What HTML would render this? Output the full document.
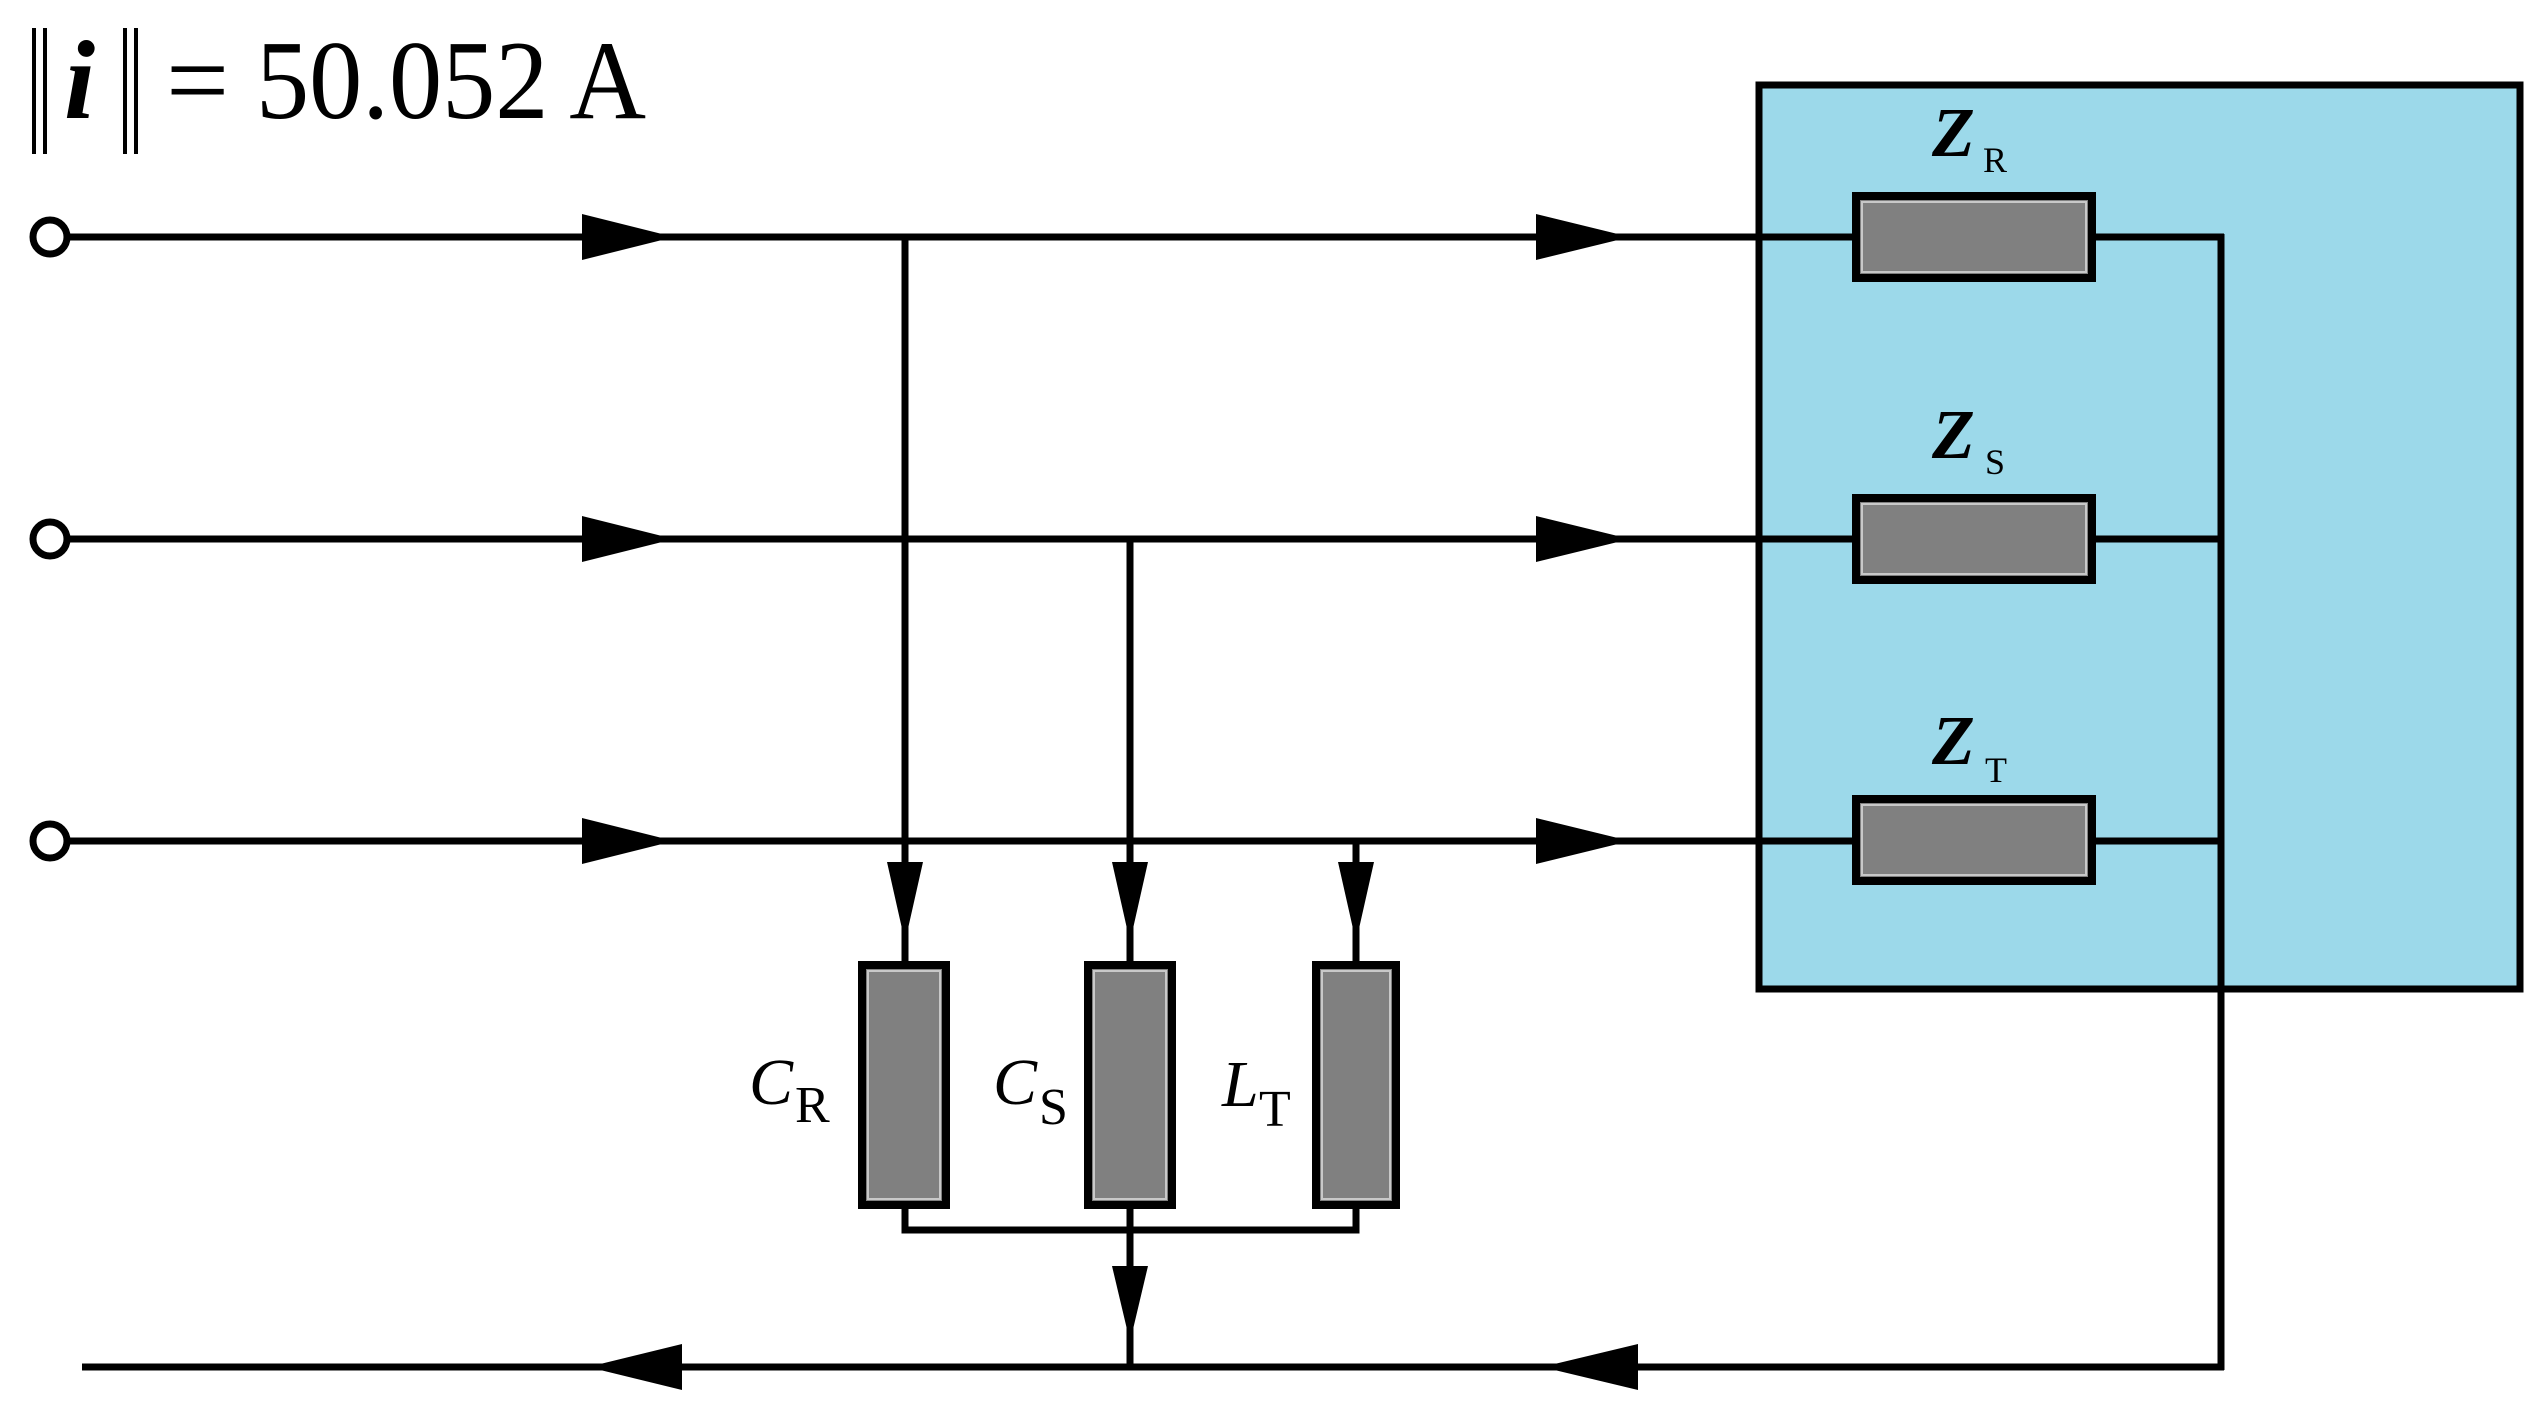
<!DOCTYPE html>
<html><head><meta charset="utf-8"><style>
html,body{margin:0;padding:0;background:#fff;}
svg{display:block}
text{font-family:"Liberation Serif",serif;fill:#000}
</style></head><body>
<svg width="2544" height="1419" viewBox="0 0 2544 1419" xmlns="http://www.w3.org/2000/svg">
<rect x="1759" y="85" width="761" height="904" fill="#9cd9ea" stroke="#000" stroke-width="7"/>

<g stroke="#000" stroke-width="4">
<line x1="34" y1="28" x2="34" y2="154"/><line x1="45" y1="28" x2="45" y2="154"/>
<line x1="125" y1="28" x2="125" y2="154"/><line x1="136" y1="28" x2="136" y2="154"/>
</g>
<text x="64" y="118" font-size="112" font-weight="bold" font-style="italic">i</text>
<text x="166" y="118" font-size="112">=</text>
<text x="256" y="118" font-size="112" textLength="390" lengthAdjust="spacingAndGlyphs">50.052 A</text>

<g stroke="#000" stroke-width="7" fill="none">
<line x1="68" y1="237" x2="1852" y2="237"/>
<line x1="68" y1="539" x2="1852" y2="539"/>
<line x1="68" y1="841" x2="1852" y2="841"/>
<line x1="2090" y1="237" x2="2224" y2="237"/>
<line x1="2090" y1="539" x2="2224" y2="539"/>
<line x1="2090" y1="841" x2="2224" y2="841"/>
<line x1="2221" y1="234" x2="2221" y2="1370"/>
<line x1="82" y1="1367" x2="2224" y2="1367"/>
<line x1="905" y1="237" x2="905" y2="965"/>
<line x1="1130" y1="539" x2="1130" y2="965"/>
<line x1="1356" y1="841" x2="1356" y2="965"/>
<polyline points="905,1205 905,1230 1356,1230 1356,1205"/>
<line x1="1130" y1="1205" x2="1130" y2="1367"/>
</g>
<g fill="#fff" stroke="#000" stroke-width="7">
<circle cx="50" cy="237" r="17"/><circle cx="50" cy="539" r="17"/><circle cx="50" cy="841" r="17"/>
</g>
<g fill="#000">
<polygon points="582,214 674,237 582,260"/>
<polygon points="582,516 674,539 582,562"/>
<polygon points="582,818 674,841 582,864"/>
<polygon points="1536,214 1630,237 1536,260"/>
<polygon points="1536,516 1630,539 1536,562"/>
<polygon points="1536,818 1630,841 1536,864"/>
<polygon points="682,1344 588,1367 682,1390"/>
<polygon points="1638,1344 1542,1367 1638,1390"/>
<polygon points="887,862 923,862 905,942"/>
<polygon points="1112,862 1148,862 1130,942"/>
<polygon points="1338,862 1374,862 1356,942"/>
<polygon points="1112,1266 1148,1266 1130,1342"/>
</g>
<g fill="#808080" stroke="#000" stroke-width="8">
<rect x="1856" y="196" width="236" height="82"/>
<rect x="1856" y="498" width="236" height="82"/>
<rect x="1856" y="799" width="236" height="82"/>
<rect x="862" y="965" width="84" height="240"/>
<rect x="1088" y="965" width="84" height="240"/>
<rect x="1316" y="965" width="80" height="240"/>
</g>
<g fill="none" stroke="#c8c8c8" stroke-width="2">
<rect x="1862" y="202" width="224" height="70"/>
<rect x="1862" y="504" width="224" height="70"/>
<rect x="1862" y="805" width="224" height="70"/>
<rect x="868" y="971" width="72" height="228"/>
<rect x="1094" y="971" width="72" height="228"/>
<rect x="1322" y="971" width="68" height="228"/>
</g>
<text x="1932" y="156" font-size="70" font-weight="bold" font-style="italic">Z</text>
<text x="1983" y="172" font-size="36">R</text>
<text x="1932" y="458" font-size="70" font-weight="bold" font-style="italic">Z</text>
<text x="1985" y="474" font-size="36">S</text>
<text x="1932" y="764" font-size="70" font-weight="bold" font-style="italic">Z</text>
<text x="1985" y="782" font-size="36">T</text>
<text x="749" y="1104" font-size="66" font-style="italic">C</text>
<text x="795" y="1122" font-size="52">R</text>
<text x="993" y="1104" font-size="66" font-style="italic">C</text>
<text x="1039" y="1124" font-size="52">S</text>
<text x="1222" y="1106" font-size="66" font-style="italic">L</text>
<text x="1259" y="1126" font-size="52">T</text>
</svg>
</body></html>
